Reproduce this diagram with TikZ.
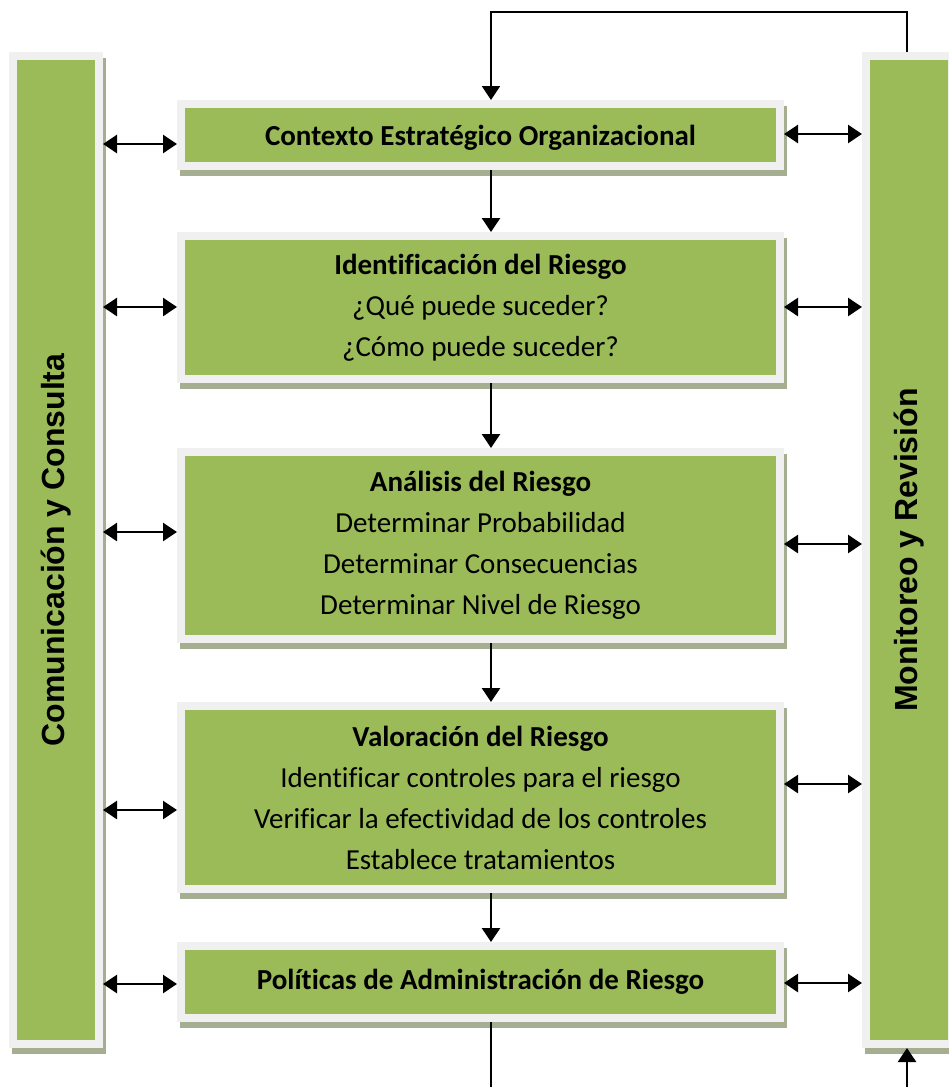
\documentclass[tikz,border=0pt]{standalone}
\usepackage{fontspec}
\setmainfont{Carlito}[Ligatures=NoCommon]
\newfontfamily\barfont{Liberation Sans}
\usepackage{graphicx}
\usepackage{tikz}
\usetikzlibrary{positioning}
\usetikzlibrary{arrows.meta}
\usetikzlibrary{shadows}

\definecolor{stagegreen}{HTML}{9BBB59}
\definecolor{stagerim}{HTML}{F0F0F0}
\definecolor{stageshadow}{HTML}{A6AE92}

\begin{document}
\begin{tikzpicture}[x=1pt, y=-1pt,
    stage/.style={rectangle, fill=stagegreen, draw=stagerim, line width=8pt, minimum width=599pt, inner sep=0pt, align=center, font=\fontsize{29}{41}\selectfont,
        drop shadow={shadow xshift=3pt, shadow yshift=-6pt, fill=stageshadow, draw=stageshadow, line width=8pt, opacity=1}},
    bar/.style={stage, minimum width=86pt, minimum height=988pt, font=\barfont\bfseries\fontsize{32}{38}\selectfont},
    link/.style={{Triangle[length=14pt,width=18pt]}-{Triangle[length=14pt,width=18pt]}, line width=2.6pt},
    flow/.style={-{Triangle[length=14pt,width=18pt]}, line width=2.6pt}]
    \useasboundingbox (0,0) rectangle (948,1087);

    % side bars
    \node[bar] (comm) at (56,550) {\rotatebox{90}{Comunicación y Consulta}};
    \node[bar] (review) at (909,550) {\rotatebox{90}{Monitoreo y Revisión}};

    % process stages
    \node[stage, minimum height=62pt] (ctx) at (480.5,135) {\raisebox{-3pt}[\height][\depth]{\textbf{Contexto Estratégico Organizacional}}};
    \node[stage, minimum height=143pt, below=62pt of ctx] (ident) {\textbf{Identificación del Riesgo}\\ ¿Qué puede suceder?\\ ¿Cómo puede suceder?};
    \node[stage, minimum height=187pt, below=65pt of ident] (analysis) {\textbf{Análisis del Riesgo}\\ Determinar Probabilidad\\ Determinar Consecuencias\\ Determinar Nivel de Riesgo};
    \node[stage, minimum height=183pt, below=59pt of analysis] (rating) {\textbf{Valoración del Riesgo}\\ Identificar controles para el riesgo\\ Verificar la efectividad de los controles\\ Establece tratamientos};
    \node[stage, minimum height=72pt, below=49pt of rating] (policy) {\textbf{Políticas de Administración de Riesgo}};

    \coordinate (spine) at (491,0);
    \coordinate (loop) at (907,12);
    \coordinate (exitL) at (491,1087);
    \coordinate (exitR) at (907,1087);

    % main flow
    \draw[flow] (ctx.south -| spine) -- (ident.north -| spine);
    \draw[flow] (ident.south -| spine) -- (analysis.north -| spine);
    \draw[flow] (analysis.south -| spine) -- (rating.north -| spine);
    \draw[flow] (rating.south -| spine) -- (policy.north -| spine);
    \draw[line width=2.6pt] (policy.south -| spine) -- (exitL);
    \draw[flow] (exitR) -- (review.south -| loop);
    \draw[flow, line width=2pt] (review.north -| loop) -- (loop) -| (ctx.north -| spine);

    % communication links
    \draw[link] (comm.east |- 0,144) -- (ctx.west |- 0,144);
    \draw[link] (comm.east |- 0,307) -- (ident.west |- 0,307);
    \draw[link] (comm.east |- 0,532) -- (analysis.west |- 0,532);
    \draw[link] (comm.east |- 0,810) -- (rating.west |- 0,810);
    \draw[link] (comm.east |- 0,984) -- (policy.west |- 0,984);

    % review links
    \draw[link] (ctx.east |- 0,134) -- (review.west |- 0,134);
    \draw[link] (ident.east |- 0,307) -- (review.west |- 0,307);
    \draw[link] (analysis.east |- 0,544) -- (review.west |- 0,544);
    \draw[link] (rating.east |- 0,784) -- (review.west |- 0,784);
    \draw[link] (policy.east |- 0,983) -- (review.west |- 0,983);
\end{tikzpicture}
\end{document}
